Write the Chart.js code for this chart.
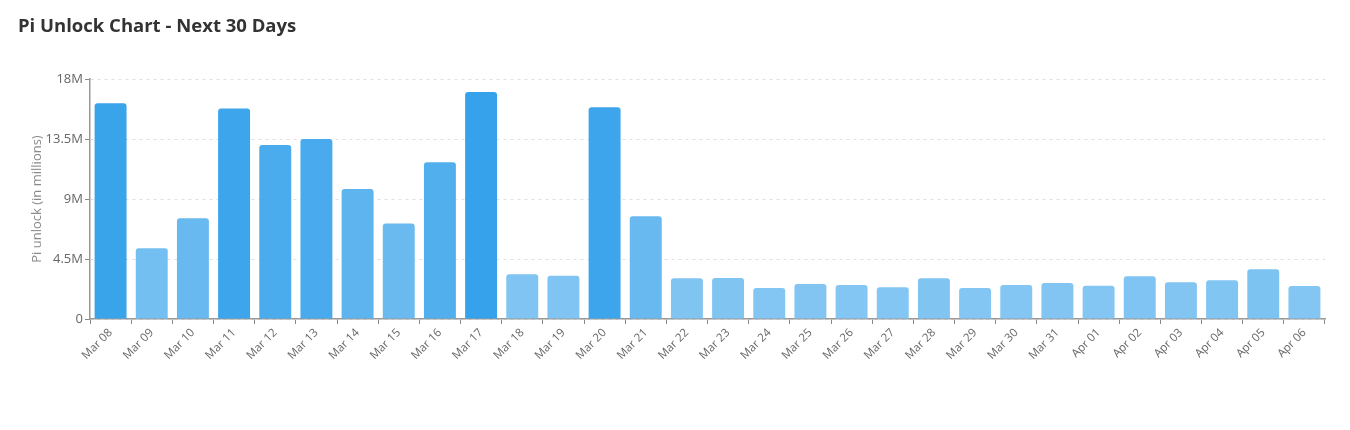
<!DOCTYPE html>
<html>
<head>
<meta charset="utf-8">
<script src="https://cdn.jsdelivr.net/npm/chart.js@4"></script>
<style>
  html, body { margin: 0; padding: 0; background: #fff; }
  #wrap { position: relative; width: 1350px; height: 430px; }
  #title { position: absolute; left: 18px; top: 12px; font: bold 18.5px "Open Sans", sans-serif; color: #333; margin: 0; }
  #box { position: absolute; left: 0; top: 0; width: 1350px; height: 430px; }
</style>
</head>
<body>
<div id="wrap">
  <div id="box"><canvas id="c"></canvas></div>
  <h2 id="title">Pi Unlock Chart - Next 30 Days</h2>
</div>
<script>
const categories = ["Mar 08","Mar 09","Mar 10","Mar 11","Mar 12","Mar 13","Mar 14","Mar 15","Mar 16","Mar 17",
  "Mar 18","Mar 19","Mar 20","Mar 21","Mar 22","Mar 23","Mar 24","Mar 25","Mar 26","Mar 27",
  "Mar 28","Mar 29","Mar 30","Mar 31","Apr 01","Apr 02","Apr 03","Apr 04","Apr 05","Apr 06"];
const unlockMillions = [16.18, 5.3, 7.55, 15.78, 13.05, 13.5, 9.75, 7.17, 11.75, 17.02,
  3.35, 3.25, 15.88, 7.7, 3.05, 3.08, 2.33, 2.63, 2.55, 2.38,
  3.06, 2.33, 2.55, 2.7, 2.5, 3.2, 2.76, 2.9, 3.74, 2.48];
const yTicks = [0, 4.5, 9, 13.5, 18];
const yTickLabels = ["0", "4.5M", "9M", "13.5M", "18M"];

const maxVal = Math.max(...unlockMillions);
function barColor(v) {
  const a = 0.55 + 0.45 * v / maxVal;
  const mix = (c) => Math.round(255 - a * (255 - c));
  return `rgb(${mix(54)},${mix(162)},${mix(235)})`;
}

new Chart(document.getElementById('c'), {
  type: 'bar',
  data: {
    labels: categories,
    datasets: [{
      data: unlockMillions,
      backgroundColor: unlockMillions.map(barColor),
      borderRadius: 3,
      borderSkipped: 'start',
      categoryPercentage: 0.8,
      barPercentage: 0.97
    }]
  },
  options: {
    responsive: true,
    maintainAspectRatio: false,
    animation: false,
    layout: { padding: { top: 79, right: 25, bottom: 0, left: 0 } },
    plugins: { legend: { display: false }, tooltip: { enabled: false } },
    scales: {
      x: {
        grid: { drawOnChartArea: false, drawTicks: true, tickLength: 5, tickColor: '#888' },
        border: { color: '#999', width: 1.5 },
        ticks: { minRotation: 45, maxRotation: 45, autoSkip: false, color: '#666', padding: 2,
          font: { family: '"Open Sans", sans-serif', size: 11.5 } },
        afterFit: (s) => { s.height = 111; }
      },
      y: {
        min: 0, max: 18,
        afterBuildTicks: (s) => { s.ticks = yTicks.map(v => ({ value: v })); },
        grid: { color: '#e0e0e0', tickColor: '#888', tickLength: 5, tickBorderDash: [], lineWidth: 1 },
        border: { color: '#999', width: 1.5, dash: [3, 4] },
        ticks: { color: '#666', padding: 2, font: { family: '"Open Sans", sans-serif', size: 13 },
          callback: (v) => { const i = yTicks.indexOf(v); return i >= 0 ? yTickLabels[i] : ''; } },
        title: { display: true, text: 'Pi unlock (in millions)', color: '#8a8a8a',
          font: { family: '"Open Sans", sans-serif', size: 13 }, padding: { top: 29, bottom: 0 } },
        afterFit: (s) => { s.width = 90; }
      }
    }
  }
});
</script>
</body>
</html>
